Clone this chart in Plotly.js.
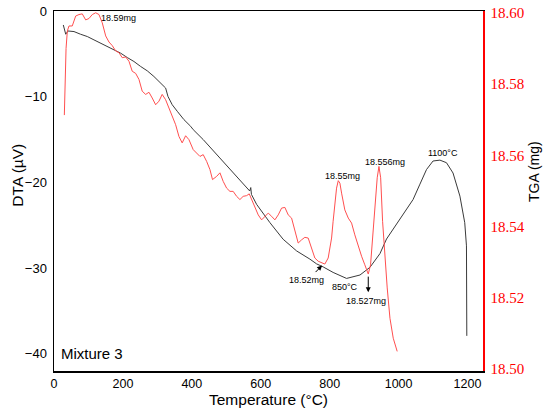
<!DOCTYPE html>
<html>
<head>
<meta charset="utf-8">
<script src="https://cdn.plot.ly/plotly-3.0.1.min.js"></script>
<style>html,body{margin:0;padding:0;background:#fff;}#chart{width:550px;height:411px;}</style>
</head>
<body>
<div id="chart"></div>
<script>
// DTA curve (black)
var dtaTemp = [27, 34, 40.6, 58, 77, 96.7, 116, 135.5, 154.7, 174, 193.4, 212.7, 232, 251.4, 270.7, 290, 309.5, 324, 330.7, 343, 357.7, 377, 396.5, 404, 433, 472, 510.6, 549, 566, 568, 571, 573, 588, 626.6, 665, 704, 742.7, 762, 781, 810, 849, 888, 917, 946, 965, 984, 1004, 1023, 1042, 1062, 1081, 1100, 1120, 1139, 1158, 1178, 1192, 1197, 1198, 1198];
var dtaValues = [-1.63, -2.71, -2.33, -2.40, -2.71, -2.98, -3.37, -3.76, -4.15, -4.53, -4.92, -5.43, -5.89, -6.47, -6.98, -7.64, -8.41, -8.99, -9.96, -10.93, -11.7, -12.67, -13.45, -13.84, -15.0, -16.74, -18.49, -20.23, -21.0, -21.0, -20.6, -21.4, -22.56, -24.69, -26.63, -27.99, -28.95, -29.5, -29.85, -30.5, -31.2, -30.8, -29.9, -28.3, -26.6, -25.5, -24.2, -23.1, -22.0, -20.2, -18.5, -17.5, -17.4, -17.7, -18.9, -21.6, -24.7, -27.4, -32, -37.9];

// TGA curve (red)
var tgaTemp = [30, 32, 35, 38.7, 43.5, 53, 63, 72.5, 82, 92, 101.5, 111, 121, 130.5, 140, 150, 159.5, 169, 179, 188.6, 198, 208, 217.6, 227, 237, 246.6, 256, 266, 275.6, 285, 295, 304.6, 314, 324, 333.6, 343, 353, 362.6, 372, 382, 391.6, 404, 414, 423.6, 433, 443, 452.6, 460, 472, 481.6, 491, 501, 510.6, 520, 530, 539.6, 549, 559, 566.6, 573.5, 583, 592.7, 602.5, 612, 621.7, 631.5, 641, 650.7, 660.5, 670, 679.7, 689.5, 699, 708.7, 718.5, 728, 737.7, 747.5, 757, 766.7, 776.5, 786, 795.7, 805.6, 810, 815, 820, 825, 829.7, 834.6, 844, 854, 863.6, 873, 883, 892.6, 902, 912, 918.7, 924.5, 931, 938, 943, 948, 953.6, 960, 967, 975, 984.5, 996];
var tgaValues = [18.5713, 18.5835, 18.5900, 18.5949, 18.5963, 18.5963, 18.5991, 18.5995, 18.5997, 18.5980, 18.5984, 18.5995, 18.6000, 18.5995, 18.5972, 18.5935, 18.5918, 18.5908, 18.5893, 18.5888, 18.5874, 18.5876, 18.5864, 18.5836, 18.5830, 18.5813, 18.5780, 18.5771, 18.5777, 18.5761, 18.5742, 18.5752, 18.5771, 18.5756, 18.5733, 18.5714, 18.5686, 18.5653, 18.5635, 18.5655, 18.5644, 18.5616, 18.5607, 18.5597, 18.5602, 18.5583, 18.5560, 18.5532, 18.5541, 18.5551, 18.5527, 18.5508, 18.5499, 18.5499, 18.5485, 18.5476, 18.5485, 18.5487, 18.5492, 18.5476, 18.5452, 18.5433, 18.5419, 18.5429, 18.5438, 18.5429, 18.5419, 18.5433, 18.5452, 18.5454, 18.5433, 18.5424, 18.5387, 18.5354, 18.5363, 18.5370, 18.5368, 18.5340, 18.5312, 18.5303, 18.5298, 18.5295, 18.5312, 18.5368, 18.5415, 18.5471, 18.5508, 18.5529, 18.5522, 18.5494, 18.5447, 18.5424, 18.5410, 18.5377, 18.5345, 18.5317, 18.5293, 18.5267, 18.5293, 18.5368, 18.5461, 18.5537, 18.5569, 18.5537, 18.5415, 18.5312, 18.5228, 18.5143, 18.5087, 18.5050];

// tick labels
var xTicks = [0, 200, 400, 600, 800, 1000, 1200];
var yTicks = [0, -10, -20, -30, -40];
var y2Ticks = [18.50, 18.52, 18.54, 18.56, 18.58, 18.60];
var y2TickText = ['18.50', '18.52', '18.54', '18.56', '18.58', '18.60'];

// annotation labels
var noteText = ['18.59mg', '18.55mg', '18.556mg', '1100°C', '18.52mg', '850°C', '18.527mg'];
var noteX = [186, 838, 962, 1130, 733, 845, 906];
var noteY = [-0.8, -19.2, -17.6, -16.6, -31.4, -32.2, -33.8];

var sans = 'Liberation Sans';
var serif = 'Times New Roman, Liberation Serif, DejaVu Serif, serif';

var traces = [
  {x: dtaTemp, y: dtaValues, type: 'scatter', mode: 'lines', line: {color: '#3a3a3a', width: 1}, yaxis: 'y', hoverinfo: 'skip'},
  {x: tgaTemp, y: tgaValues, type: 'scatter', mode: 'lines', line: {color: '#ff4f4f', width: 1}, yaxis: 'y2', hoverinfo: 'skip'}
];

var annotations = noteText.map(function(t, i) {
  return {x: noteX[i], y: noteY[i], xref: 'x', yref: 'y', text: t, showarrow: false,
          font: {family: sans, size: 9, color: '#000'}};
});
// arrows
annotations.push({x: 778, y: -29.7, xref: 'x', yref: 'y', text: '', showarrow: true,
  arrowhead: 2, arrowsize: 1, arrowwidth: 1, arrowcolor: '#000', ax: -8, ay: 8});
annotations.push({x: 912, y: -32.8, xref: 'x', yref: 'y', text: '', showarrow: true,
  arrowhead: 2, arrowsize: 1, arrowwidth: 1, arrowcolor: '#000', ax: 0, ay: -17});
annotations.push({x: 0.012, y: 0.02, xref: 'paper', yref: 'paper', xanchor: 'left', yanchor: 'bottom',
  text: 'Mixture 3', showarrow: false, font: {family: sans, size: 15, color: '#000'}});
// axis titles
annotations.push({x: -0.086, y: 0.543, xref: 'paper', yref: 'paper', xanchor: 'center', yanchor: 'middle',
  text: 'DTA (µV)', textangle: -90, showarrow: false, font: {family: sans, size: 15.5, color: '#000'}});
annotations.push({x: 1.119, y: 0.553, xref: 'paper', yref: 'paper', xanchor: 'center', yanchor: 'middle',
  text: 'TGA (mg)', textangle: -90, showarrow: false, font: {family: sans, size: 14, color: '#000'}});
annotations.push({x: 0.499, y: -0.078, xref: 'paper', yref: 'paper', xanchor: 'center', yanchor: 'middle',
  text: 'Temperature (°C)', showarrow: false, font: {family: sans, size: 15.5, color: '#000'}});

var layout = {
  width: 550, height: 411,
  margin: {l: 54, r: 67, t: 11, b: 40},
  paper_bgcolor: '#fff', plot_bgcolor: '#fff',
  showlegend: false,
  font: {family: sans, color: '#000'},
  xaxis: {
    range: [0, 1245], tickvals: xTicks, showgrid: false, zeroline: false,
    showline: true, linecolor: '#000', linewidth: 1.5, mirror: true, ticks: '',
    tickfont: {family: sans, size: 12.5, color: '#000'}
  },
  yaxis: {
    range: [-42, 0], tickvals: yTicks, showgrid: false, zeroline: false,
    showline: true, linecolor: '#000', linewidth: 1.5, ticks: '', ticklabelstandoff: 3,
    tickfont: {family: sans, size: 13, color: '#000'}
  },
  yaxis2: {
    range: [18.4995, 18.6005], overlaying: 'y', side: 'right',
    tickvals: y2Ticks, ticktext: y2TickText, showgrid: false, zeroline: false,
    showline: true, linecolor: '#ff0000', linewidth: 1.5, ticks: '', ticklabelstandoff: 3,
    tickfont: {family: serif, size: 15, color: '#ff0000'}
  },
  annotations: annotations
};

Plotly.newPlot('chart', traces, layout, {displayModeBar: false, staticPlot: true});
</script>
</body>
</html>
